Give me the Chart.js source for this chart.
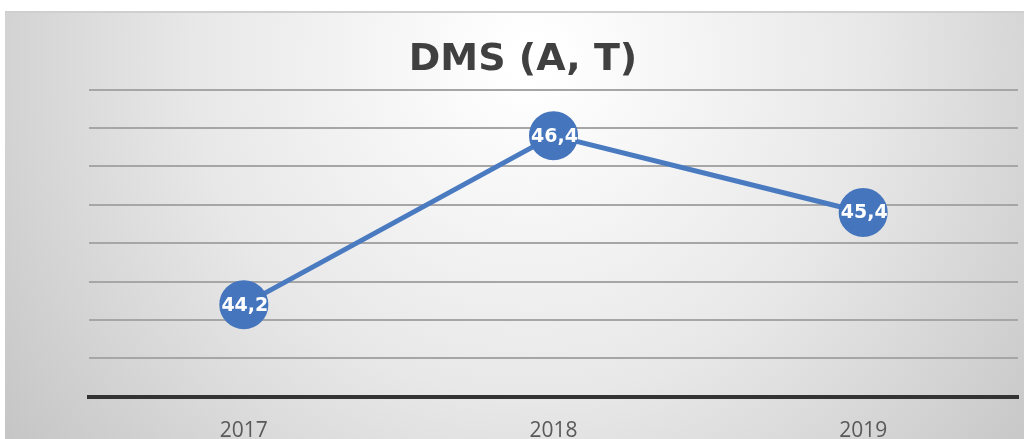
<!DOCTYPE html>
<html>
<head>
<meta charset="utf-8">
<script src="https://cdn.jsdelivr.net/npm/chart.js@4/dist/chart.umd.min.js"></script>
<style>
  html, body { margin: 0; padding: 0; background: #fff; overflow: hidden; }
  #wrap { width: 1045px; height: 458px; position: relative; }
</style>
</head>
<body>
<div id="wrap"><canvas id="canvas"></canvas></div>
<script>
var years = ["2017", "2018", "2019"];
var dmsValues = [44.2, 46.4, 45.4];
var dmsLabels = ["44,2", "46,4", "45,4"];

// grey panel behind the chart
var panelBg = {
    id: 'panelBg',
    beforeDraw: function (chart) {
        var ctx = chart.ctx;
        ctx.save();
        var g = ctx.createRadialGradient(530, 60, 20, 530, 60, 720);
        g.addColorStop(0, '#ffffff');
        g.addColorStop(0.45, '#e8e8e8');
        g.addColorStop(1, '#bdbdbd');
        ctx.fillStyle = g;
        ctx.fillRect(5, 12, chart.width - 5, chart.height - 12);
        ctx.fillStyle = '#cfcfcf';
        ctx.fillRect(5, 11, chart.width - 5, 2);
        ctx.restore();
    }
};

// value labels inside the markers
var pointText = {
    id: 'pointText',
    afterDatasetsDraw: function (chart) {
        var ctx = chart.ctx;
        var meta = chart.getDatasetMeta(0);
        ctx.save();
        ctx.font = 'bold 19px "DejaVu Sans", Verdana, sans-serif';
        ctx.fillStyle = '#ffffff';
        ctx.textAlign = 'center';
        ctx.textBaseline = 'middle';
        meta.data.forEach(function (pt, i) {
            ctx.fillText(dmsLabels[i], pt.x + 1, pt.y + 1);
        });
        ctx.restore();
    }
};

window.onload = function () {
    var ctx = document.getElementById("canvas").getContext("2d");
    window.dmsChart = new Chart(ctx, {
        type: 'line',
        data: {
            labels: years,
            datasets: [{
                label: 'DMS',
                data: dmsValues,
                borderColor: '#4a7bc0',
                borderWidth: 5,
                backgroundColor: '#4575bd',
                pointBackgroundColor: '#4575bd',
                pointBorderColor: '#4575bd',
                pointRadius: 22,
                pointHoverRadius: 22,
                tension: 0
            }]
        },
        options: {
            responsive: true,
            maintainAspectRatio: false,
            animation: false,
            layout: { padding: { left: 10, right: 9, top: 0, bottom: 0 } },
            plugins: {
                legend: { display: false },
                tooltip: { enabled: false },
                title: {
                    display: true,
                    text: 'DMS (A, T)',
                    color: '#404040',
                    font: { family: '"DejaVu Sans", Verdana, sans-serif', size: 38, weight: 'bold' },
                    padding: { top: 37, bottom: 7 }
                }
            },
            scales: {
                x: {
                    offset: true,
                    grid: { display: false },
                    border: { display: true, color: '#333333', width: 4 },
                    ticks: {
                        color: '#595959',
                        padding: 14,
                        font: { family: '"Open Sans", sans-serif', size: 21 }
                    }
                },
                y: {
                    min: 43,
                    max: 47,
                    afterFit: function (scale) { scale.width = 79; },
                    ticks: { display: false, stepSize: 0.5 },
                    border: { display: false },
                    grid: {
                        drawTicks: false,
                        lineWidth: 2,
                        color: function (c) {
                            return c.tick && c.tick.value === 43 ? 'rgba(0,0,0,0)' : '#a6a6a6';
                        }
                    }
                }
            }
        },
        plugins: [panelBg, pointText]
    });
};
</script>
</body>
</html>
